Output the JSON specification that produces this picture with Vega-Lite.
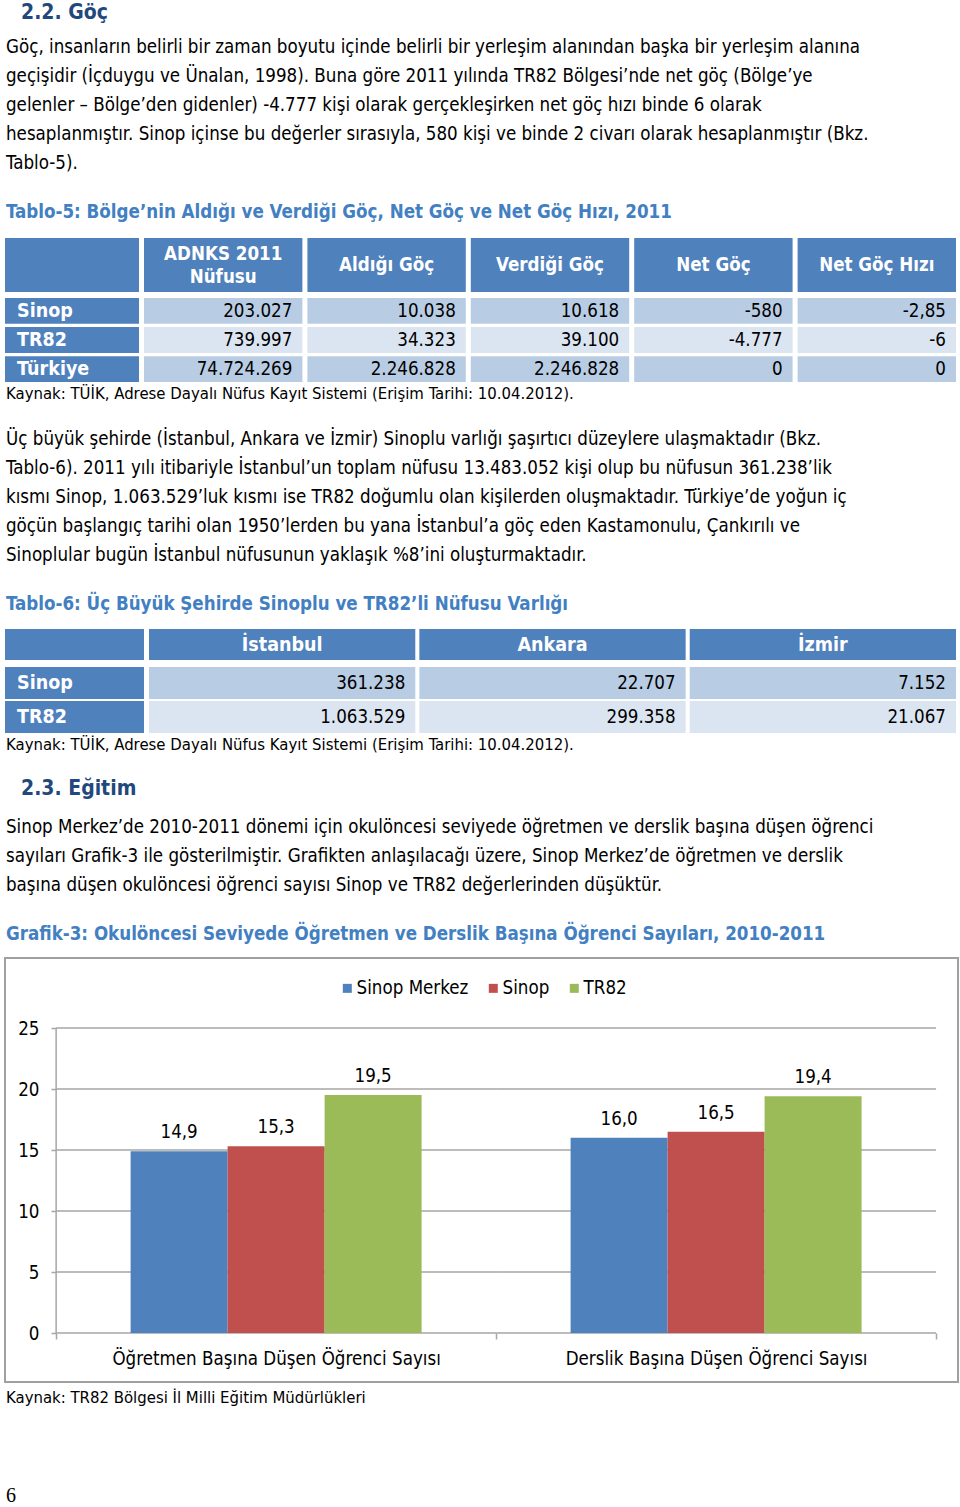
{
  "$schema": "https://vega.github.io/schema/vega-lite/v6.json",
  "padding": {"left": 4, "top": 0, "right": 0, "bottom": 0},
  "background": "white",
  "spacing": 0,
  "resolve": {"scale": {"color": "independent"}, "legend": {"color": "independent"}},
  "config": {
    "font": "DejaVu Sans Condensed",
    "view": {"stroke": null},
    "text": {"font": "DejaVu Sans Condensed"},
    "axis": {"labelFont": "DejaVu Sans Condensed"},
    "legend": {"labelFont": "DejaVu Sans Condensed"},
    "locale": {"number": {"decimal": ",", "thousands": ".", "grouping": [3], "currency": ["", ""], "minus": "-"}}
  },
  "vconcat": [
    {
      "width": 956, "height": 238,
      "data": {"values": [
        {"line": 0, "kind": "h", "text": "2.2. Göç"},
        {"line": 1, "kind": "p", "text": "Göç, insanların belirli bir zaman boyutu içinde belirli bir yerleşim alanından başka bir yerleşim alanına"},
        {"line": 2, "kind": "p", "text": "geçişidir (İçduygu ve Ünalan, 1998). Buna göre 2011 yılında TR82 Bölgesi’nde net göç (Bölge’ye"},
        {"line": 3, "kind": "p", "text": "gelenler – Bölge’den gidenler) -4.777 kişi olarak gerçekleşirken net göç hızı binde 6 olarak"},
        {"line": 4, "kind": "p", "text": "hesaplanmıştır. Sinop içinse bu değerler sırasıyla, 580 kişi ve binde 2 civarı olarak hesaplanmıştır (Bkz."},
        {"line": 5, "kind": "p", "text": "Tablo-5)."},
        {"line": 6, "kind": "t", "text": "Tablo-5: Bölge’nin Aldığı ve Verdiği Göç, Net Göç ve Net Göç Hızı, 2011"}
      ]},
      "encoding": {
        "y": {"field": "line", "type": "quantitative", "scale": {"domain": [-0.621, 7.586], "reverse": true, "nice": false, "zero": false}, "axis": null},
        "text": {"field": "text", "type": "nominal"}
      },
      "layer": [
        {"transform": [{"filter": "datum.kind === 'p'"}], "mark": {"type": "text", "align": "left", "baseline": "middle", "x": 1, "fontSize": 18.6, "color": "#000000"}},
        {"transform": [{"filter": "datum.kind === 'h'"}], "mark": {"type": "text", "align": "left", "baseline": "middle", "x": 16, "dy": -5, "fontSize": 21, "fontWeight": "bold", "color": "#1F497D"}},
        {"transform": [{"filter": "datum.kind === 't'"}], "mark": {"type": "text", "align": "left", "baseline": "middle", "x": 1, "dy": 20, "fontSize": 18.6, "fontWeight": "bold", "color": "#4280C2"}}
      ]
    },
    {
      "spacing": 6,
      "vconcat": [
        {
          "spacing": 5,
          "hconcat": [
            {"width": 134, "height": 54, "data": {"values": [{"k": "h"}]}, "mark": {"type": "rect", "color": "#4F81BD"}, "encoding": {}},
            {
              "width": 812, "height": 54,
              "data": {"values": [{"col": "ADNKS 2011\nNüfusu", "two": true}, {"col": "Aldığı Göç", "two": false}, {"col": "Verdiği Göç", "two": false}, {"col": "Net Göç", "two": false}, {"col": "Net Göç Hızı", "two": false}]},
              "encoding": {"x": {"field": "col", "type": "nominal", "sort": null, "scale": {"paddingInner": 0.0307, "paddingOuter": 0}, "axis": null}},
              "layer": [
                {"mark": {"type": "rect", "color": "#4F81BD"}},
                {"transform": [{"filter": "!datum.two"}], "mark": {"type": "text", "color": "#FFFFFF", "fontWeight": "bold", "fontSize": 18.6, "baseline": "middle"}, "encoding": {"text": {"field": "col", "type": "nominal"}}},
                {"transform": [{"filter": "datum.two"}], "mark": {"type": "text", "color": "#FFFFFF", "fontWeight": "bold", "fontSize": 18.6, "lineBreak": "\n", "lineHeight": 23, "baseline": "middle", "dy": -11.5}, "encoding": {"text": {"field": "col", "type": "nominal"}}}
              ]
            }
          ]
        },
        {
          "spacing": 5,
          "hconcat": [
            {
              "width": 134, "height": 84,
              "data": {"values": [{"row": "Sinop"}, {"row": "TR82"}, {"row": "Türkiye"}]},
              "encoding": {"y": {"field": "row", "type": "nominal", "sort": null, "scale": {"paddingInner": 0.11, "paddingOuter": 0}, "axis": null}},
              "layer": [
                {"mark": {"type": "rect", "color": "#4F81BD"}},
                {"mark": {"type": "text", "align": "left", "baseline": "middle", "x": 12, "color": "#FFFFFF", "fontWeight": "bold", "fontSize": 19.5}, "encoding": {"text": {"field": "row", "type": "nominal"}}}
              ]
            },
            {
              "width": 812, "height": 84,
              "data": {"values": [
                {"row": "Sinop", "col": "ADNKS", "v": 203027},
                {"row": "Sinop", "col": "Aldığı Göç", "v": 10038},
                {"row": "Sinop", "col": "Verdiği Göç", "v": 10618},
                {"row": "Sinop", "col": "Net Göç", "v": -580},
                {"row": "Sinop", "col": "Net Göç Hızı", "v": -2.85},
                {"row": "TR82", "col": "ADNKS", "v": 739997},
                {"row": "TR82", "col": "Aldığı Göç", "v": 34323},
                {"row": "TR82", "col": "Verdiği Göç", "v": 39100},
                {"row": "TR82", "col": "Net Göç", "v": -4777},
                {"row": "TR82", "col": "Net Göç Hızı", "v": -6},
                {"row": "Türkiye", "col": "ADNKS", "v": 74724269},
                {"row": "Türkiye", "col": "Aldığı Göç", "v": 2246828},
                {"row": "Türkiye", "col": "Verdiği Göç", "v": 2246828},
                {"row": "Türkiye", "col": "Net Göç", "v": 0},
                {"row": "Türkiye", "col": "Net Göç Hızı", "v": 0}
              ]},
              "encoding": {
                "x": {"field": "col", "type": "nominal", "sort": null, "scale": {"paddingInner": 0.0307, "paddingOuter": 0}, "axis": null},
                "y": {"field": "row", "type": "nominal", "sort": null, "scale": {"paddingInner": 0.11, "paddingOuter": 0}, "axis": null}
              },
              "layer": [
                {"mark": {"type": "rect"}, "encoding": {"color": {"condition": {"test": "datum.row === 'TR82'", "value": "#DBE5F1"}, "value": "#B8CCE4"}}},
                {"mark": {"type": "text", "align": "right", "baseline": "middle", "dx": -10, "fontSize": 18.6, "color": "#000000"},
                 "encoding": {
                   "x": {"field": "col", "type": "nominal", "sort": null, "bandPosition": 1, "scale": {"paddingInner": 0.0307, "paddingOuter": 0}, "axis": null},
                   "text": {"field": "v", "type": "quantitative", "format": ",.2~f"}
                 }}
              ]
            }
          ]
        }
      ]
    },
    {
      "width": 956, "height": 247,
      "data": {"values": [
        {"line": 0, "kind": "k", "text": "Kaynak: TÜİK, Adrese Dayalı Nüfus Kayıt Sistemi (Erişim Tarihi: 10.04.2012)."},
        {"line": 1, "kind": "p", "text": "Üç büyük şehirde (İstanbul, Ankara ve İzmir) Sinoplu varlığı şaşırtıcı düzeylere ulaşmaktadır  (Bkz."},
        {"line": 2, "kind": "p", "text": "Tablo-6). 2011 yılı itibariyle İstanbul’un toplam nüfusu 13.483.052 kişi olup bu nüfusun 361.238’lik"},
        {"line": 3, "kind": "p", "text": "kısmı Sinop, 1.063.529’luk kısmı ise TR82 doğumlu olan kişilerden oluşmaktadır. Türkiye’de yoğun iç"},
        {"line": 4, "kind": "p", "text": "göçün başlangıç tarihi olan 1950’lerden bu yana İstanbul’a göç eden Kastamonulu, Çankırılı ve"},
        {"line": 5, "kind": "p", "text": "Sinoplular bugün İstanbul nüfusunun yaklaşık %8’ini oluşturmaktadır."},
        {"line": 6, "kind": "t", "text": "Tablo-6: Üç Büyük Şehirde Sinoplu ve TR82’li Nüfusu Varlığı"}
      ]},
      "encoding": {
        "y": {"field": "line", "type": "quantitative", "scale": {"domain": [-0.966, 7.552], "reverse": true, "nice": false, "zero": false}, "axis": null},
        "text": {"field": "text", "type": "nominal"}
      },
      "layer": [
        {"transform": [{"filter": "datum.kind === 'p'"}], "mark": {"type": "text", "align": "left", "baseline": "middle", "x": 1, "fontSize": 18.6, "color": "#000000"}},
        {"transform": [{"filter": "datum.kind === 'k'"}], "mark": {"type": "text", "align": "left", "baseline": "middle", "x": 1, "dy": -16, "fontSize": 16.6, "color": "#000000"}},
        {"transform": [{"filter": "datum.kind === 't'"}], "mark": {"type": "text", "align": "left", "baseline": "middle", "x": 1, "dy": 20, "fontSize": 18.6, "fontWeight": "bold", "color": "#4280C2"}}
      ]
    },
    {
      "spacing": 7,
      "vconcat": [
        {
          "spacing": 5,
          "hconcat": [
            {"width": 139, "height": 31, "data": {"values": [{"k": "h"}]}, "mark": {"type": "rect", "color": "#4F81BD"}, "encoding": {}},
            {
              "width": 807, "height": 31,
              "data": {"values": [{"col": "İstanbul"}, {"col": "Ankara"}, {"col": "İzmir"}]},
              "encoding": {"x": {"field": "col", "type": "nominal", "sort": null, "scale": {"paddingInner": 0.015, "paddingOuter": 0}, "axis": null}},
              "layer": [
                {"mark": {"type": "rect", "color": "#4F81BD"}},
                {"mark": {"type": "text", "color": "#FFFFFF", "fontWeight": "bold", "fontSize": 19.5, "baseline": "middle"}, "encoding": {"text": {"field": "col", "type": "nominal"}}}
              ]
            }
          ]
        },
        {
          "spacing": 5,
          "hconcat": [
            {
              "width": 139, "height": 66,
              "data": {"values": [{"row": "Sinop"}, {"row": "TR82"}]},
              "encoding": {"y": {"field": "row", "type": "nominal", "sort": null, "scale": {"paddingInner": 0.06, "paddingOuter": 0}, "axis": null}},
              "layer": [
                {"mark": {"type": "rect", "color": "#4F81BD"}},
                {"mark": {"type": "text", "align": "left", "baseline": "middle", "x": 12, "color": "#FFFFFF", "fontWeight": "bold", "fontSize": 19.5}, "encoding": {"text": {"field": "row", "type": "nominal"}}}
              ]
            },
            {
              "width": 807, "height": 66,
              "data": {"values": [
                {"row": "Sinop", "col": "İstanbul", "v": 361238},
                {"row": "Sinop", "col": "Ankara", "v": 22707},
                {"row": "Sinop", "col": "İzmir", "v": 7152},
                {"row": "TR82", "col": "İstanbul", "v": 1063529},
                {"row": "TR82", "col": "Ankara", "v": 299358},
                {"row": "TR82", "col": "İzmir", "v": 21067}
              ]},
              "encoding": {
                "x": {"field": "col", "type": "nominal", "sort": null, "scale": {"paddingInner": 0.015, "paddingOuter": 0}, "axis": null},
                "y": {"field": "row", "type": "nominal", "sort": null, "scale": {"paddingInner": 0.06, "paddingOuter": 0}, "axis": null}
              },
              "layer": [
                {"mark": {"type": "rect"}, "encoding": {"color": {"condition": {"test": "datum.row === 'TR82'", "value": "#DBE5F1"}, "value": "#B8CCE4"}}},
                {"mark": {"type": "text", "align": "right", "baseline": "middle", "dx": -10, "fontSize": 18.6, "color": "#000000"},
                 "encoding": {
                   "x": {"field": "col", "type": "nominal", "sort": null, "bandPosition": 1, "scale": {"paddingInner": 0.015, "paddingOuter": 0}, "axis": null},
                   "text": {"field": "v", "type": "quantitative", "format": ",d"}
                 }}
              ]
            }
          ]
        }
      ]
    },
    {
      "width": 956, "height": 224,
      "data": {"values": [
        {"line": 0, "kind": "k", "text": "Kaynak: TÜİK, Adrese Dayalı Nüfus Kayıt Sistemi (Erişim Tarihi: 10.04.2012)."},
        {"line": 1, "kind": "h", "text": "2.3. Eğitim"},
        {"line": 2, "kind": "p", "text": "Sinop Merkez’de 2010-2011 dönemi için okulöncesi seviyede öğretmen ve derslik başına düşen öğrenci"},
        {"line": 3, "kind": "p", "text": "sayıları Grafik-3 ile gösterilmiştir. Grafikten anlaşılacağı üzere, Sinop Merkez’de öğretmen ve derslik"},
        {"line": 4, "kind": "p", "text": "başına düşen okulöncesi öğrenci sayısı Sinop ve TR82 değerlerinden düşüktür."},
        {"line": 5, "kind": "t", "text": "Grafik-3: Okulöncesi Seviyede Öğretmen ve Derslik Başına Öğrenci Sayıları,  2010-2011"}
      ]},
      "encoding": {
        "y": {"field": "line", "type": "quantitative", "scale": {"domain": [-1.241, 6.483], "reverse": true, "nice": false, "zero": false}, "axis": null},
        "text": {"field": "text", "type": "nominal"}
      },
      "layer": [
        {"transform": [{"filter": "datum.kind === 'p'"}], "mark": {"type": "text", "align": "left", "baseline": "middle", "x": 1, "fontSize": 18.6, "color": "#000000"}},
        {"transform": [{"filter": "datum.kind === 'k'"}], "mark": {"type": "text", "align": "left", "baseline": "middle", "x": 1, "dy": -24, "fontSize": 16.6, "color": "#000000"}},
        {"transform": [{"filter": "datum.kind === 'h'"}], "mark": {"type": "text", "align": "left", "baseline": "middle", "x": 16, "dy": -9, "fontSize": 21, "fontWeight": "bold", "color": "#1F497D"}},
        {"transform": [{"filter": "datum.kind === 't'"}], "mark": {"type": "text", "align": "left", "baseline": "middle", "x": 1, "dy": 20, "fontSize": 18.6, "fontWeight": "bold", "color": "#4280C2"}}
      ]
    },
    {
      "width": 953, "height": 424,
      "view": {"stroke": "#A0A0A0", "strokeWidth": 2},
      "data": {"values": [
        {"cat": "Öğretmen Başına Düşen Öğrenci Sayısı", "series": "Sinop Merkez", "value": 14.9},
        {"cat": "Öğretmen Başına Düşen Öğrenci Sayısı", "series": "Sinop", "value": 15.3},
        {"cat": "Öğretmen Başına Düşen Öğrenci Sayısı", "series": "TR82", "value": 19.5},
        {"cat": "Derslik Başına Düşen Öğrenci Sayısı", "series": "Sinop Merkez", "value": 16.0},
        {"cat": "Derslik Başına Düşen Öğrenci Sayısı", "series": "Sinop", "value": 16.5},
        {"cat": "Derslik Başına Düşen Öğrenci Sayısı", "series": "TR82", "value": 19.4}
      ]},
      "layer": [
        {
          "data": {"values": [
            {"cat": "Öğretmen Başına Düşen Öğrenci Sayısı", "g": 0},
            {"cat": "Öğretmen Başına Düşen Öğrenci Sayısı", "g": 5},
            {"cat": "Öğretmen Başına Düşen Öğrenci Sayısı", "g": 10},
            {"cat": "Öğretmen Başına Düşen Öğrenci Sayısı", "g": 15},
            {"cat": "Öğretmen Başına Düşen Öğrenci Sayısı", "g": 20},
            {"cat": "Öğretmen Başına Düşen Öğrenci Sayısı", "g": 25},
            {"cat": "Derslik Başına Düşen Öğrenci Sayısı", "g": 0},
            {"cat": "Derslik Başına Düşen Öğrenci Sayısı", "g": 5},
            {"cat": "Derslik Başına Düşen Öğrenci Sayısı", "g": 10},
            {"cat": "Derslik Başına Düşen Öğrenci Sayısı", "g": 15},
            {"cat": "Derslik Başına Düşen Öğrenci Sayısı", "g": 20},
            {"cat": "Derslik Başına Düşen Öğrenci Sayısı", "g": 25}
          ]},
          "mark": {"type": "bar", "fillOpacity": 0, "stroke": "#A6A6A6", "strokeWidth": 1.5},
          "encoding": {
            "x": {"field": "cat", "type": "nominal", "sort": ["Öğretmen Başına Düşen Öğrenci Sayısı", "Derslik Başına Düşen Öğrenci Sayısı"], "scale": {"paddingInner": 0, "paddingOuter": 0.083, "align": 0.7},
                  "axis": {"orient": "bottom", "offset": -49, "domain": false, "grid": false, "tickBand": "extent", "tickSize": 6, "tickColor": "#A6A6A6", "tickWidth": 1.5, "labelPadding": 10, "labelFontSize": 18.6, "labelColor": "#000000", "labelAngle": 0, "labelLimit": 0, "title": null}},
            "y": {"field": "g", "type": "quantitative", "scale": {"domain": [-4.016, 30.738], "nice": false, "zero": false},
                  "axis": {"values": [0, 5, 10, 15, 20, 25], "offset": -51, "domain": false, "grid": false, "tickSize": 5, "tickColor": "#A6A6A6", "tickWidth": 1.5, "labelPadding": 12, "labelFontSize": 18.6, "labelColor": "#000000", "title": null}},
            "y2": {"field": "g"}
          }
        },
        {
          "data": {"values": [{"k": 1}]},
          "mark": {"type": "rule", "color": "#A6A6A6", "strokeWidth": 1.5},
          "encoding": {
            "x": {"datum": "Öğretmen Başına Düşen Öğrenci Sayısı", "type": "nominal", "bandPosition": 0, "scale": {"paddingInner": 0, "paddingOuter": 0.083, "align": 0.7},
                  "axis": {"orient": "bottom", "offset": -49, "domain": false, "grid": false, "tickBand": "extent", "tickSize": 6, "tickColor": "#A6A6A6", "tickWidth": 1.5, "labelPadding": 10, "labelFontSize": 18.6, "labelColor": "#000000", "labelAngle": 0, "labelLimit": 0, "title": null}},
            "y": {"datum": 0, "type": "quantitative", "scale": {"domain": [-4.016, 30.738], "nice": false, "zero": false},
                  "axis": {"values": [0, 5, 10, 15, 20, 25], "offset": -51, "domain": false, "grid": false, "tickSize": 5, "tickColor": "#A6A6A6", "tickWidth": 1.5, "labelPadding": 12, "labelFontSize": 18.6, "labelColor": "#000000", "title": null}},
            "y2": {"datum": 25}
          }
        },
        {
          "mark": {"type": "bar"},
          "encoding": {
            "x": {"field": "cat", "type": "nominal", "sort": ["Öğretmen Başına Düşen Öğrenci Sayısı", "Derslik Başına Düşen Öğrenci Sayısı"], "scale": {"paddingInner": 0, "paddingOuter": 0.083, "align": 0.7},
                  "axis": {"orient": "bottom", "offset": -49, "domain": false, "grid": false, "tickBand": "extent", "tickSize": 6, "tickColor": "#A6A6A6", "tickWidth": 1.5, "labelPadding": 10, "labelFontSize": 18.6, "labelColor": "#000000", "labelAngle": 0, "labelLimit": 0, "title": null}},
            "xOffset": {"field": "series", "type": "nominal", "sort": ["Sinop Merkez", "Sinop", "TR82"], "scale": {"paddingInner": 0, "paddingOuter": 0.768}},
            "y": {"field": "value", "type": "quantitative", "scale": {"domain": [-4.016, 30.738], "nice": false, "zero": false},
                  "axis": {"values": [0, 5, 10, 15, 20, 25], "offset": -51, "domain": false, "grid": false, "tickSize": 5, "tickColor": "#A6A6A6", "tickWidth": 1.5, "labelPadding": 12, "labelFontSize": 18.6, "labelColor": "#000000", "title": null}},
            "color": {"field": "series", "type": "nominal", "sort": ["Sinop Merkez", "Sinop", "TR82"],
                      "scale": {"domain": ["Sinop Merkez", "Sinop", "TR82"], "range": ["#4F81BD", "#C0504D", "#9BBB59"]},
                      "legend": {"orient": "none", "legendX": 333, "legendY": 21, "direction": "horizontal", "title": null, "labelFontSize": 18.6, "labelColor": "#000000", "symbolType": "square", "symbolSize": 81, "symbolStrokeWidth": 0, "labelOffset": 0, "columnPadding": 15, "padding": 0}}
          }
        },
        {
          "mark": {"type": "text", "baseline": "bottom", "dy": -9, "fontSize": 18.6, "color": "#000000"},
          "encoding": {
            "x": {"field": "cat", "type": "nominal", "sort": ["Öğretmen Başına Düşen Öğrenci Sayısı", "Derslik Başına Düşen Öğrenci Sayısı"], "scale": {"paddingInner": 0, "paddingOuter": 0.083, "align": 0.7},
                  "axis": {"orient": "bottom", "offset": -49, "domain": false, "grid": false, "tickBand": "extent", "tickSize": 6, "tickColor": "#A6A6A6", "tickWidth": 1.5, "labelPadding": 10, "labelFontSize": 18.6, "labelColor": "#000000", "labelAngle": 0, "labelLimit": 0, "title": null}},
            "xOffset": {"field": "series", "type": "nominal", "sort": ["Sinop Merkez", "Sinop", "TR82"], "scale": {"paddingInner": 0, "paddingOuter": 0.768}},
            "y": {"field": "value", "type": "quantitative", "scale": {"domain": [-4.016, 30.738], "nice": false, "zero": false},
                  "axis": {"values": [0, 5, 10, 15, 20, 25], "offset": -51, "domain": false, "grid": false, "tickSize": 5, "tickColor": "#A6A6A6", "tickWidth": 1.5, "labelPadding": 12, "labelFontSize": 18.6, "labelColor": "#000000", "title": null}},
            "text": {"field": "value", "type": "quantitative", "format": ".1f"}
          }
        }
      ]
    },
    {
      "width": 956, "height": 126,
      "data": {"values": [
        {"line": 0, "kind": "k", "text": "Kaynak: TR82 Bölgesi İl Milli Eğitim Müdürlükleri"},
        {"line": 1, "kind": "n", "text": "6"}
      ]},
      "encoding": {
        "y": {"field": "line", "type": "quantitative", "scale": {"domain": [-0.1485, 1.099], "reverse": true, "nice": false, "zero": false}, "axis": null},
        "text": {"field": "text", "type": "nominal"}
      },
      "layer": [
        {"transform": [{"filter": "datum.kind === 'k'"}], "mark": {"type": "text", "align": "left", "baseline": "middle", "x": 1, "fontSize": 16.6, "color": "#000000"}},
        {"transform": [{"filter": "datum.kind === 'n'"}], "mark": {"type": "text", "align": "left", "baseline": "middle", "x": 1, "dy": -3, "fontSize": 20, "font": "Liberation Serif", "color": "#000000"}}
      ]
    }
  ]
}
